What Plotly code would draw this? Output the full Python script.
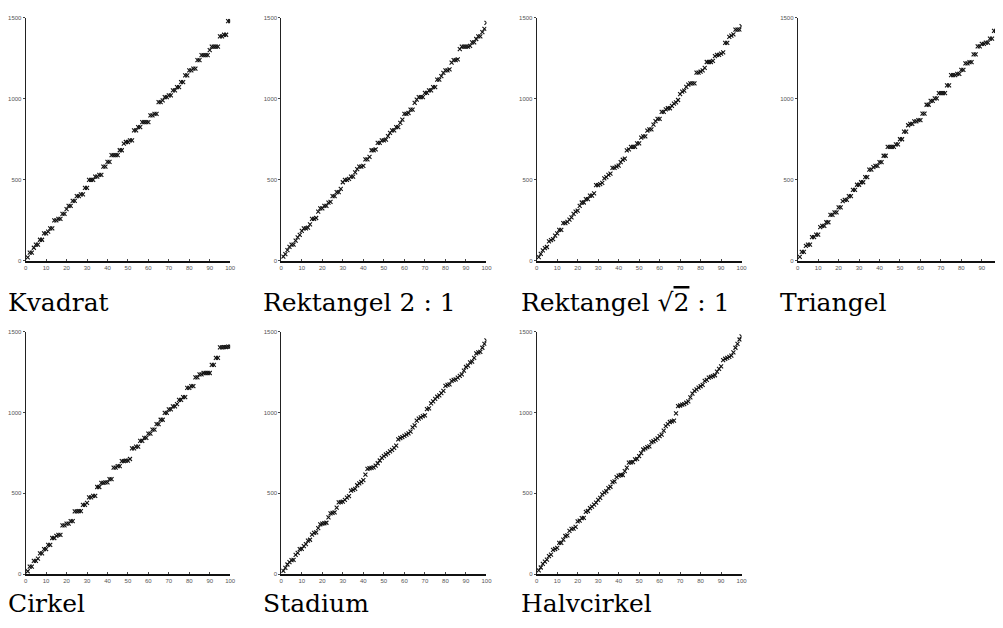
import plotly.graph_objects as go

n_index = list(range(1, 101))

kvadrat = [19.7, 49.4, 49.4, 79.1, 98.9, 98.9, 128.7, 128.7, 168.5, 168.5,
           178.4, 198.3, 198.3, 248.2, 248.2, 258.2, 258.2, 288.2, 288.2, 318.2,
           338.3, 338.3, 368.4, 368.4, 398.5, 398.5, 408.6, 408.6, 448.8, 448.8,
           499.3, 499.3, 499.3, 519.5, 519.5, 529.7, 529.7, 580.3, 580.3, 610.7,
           610.7, 651.4, 651.4, 651.4, 651.4, 681.9, 681.9, 722.7, 733.0, 733.0,
           743.2, 743.2, 804.6, 804.6, 825.0, 825.0, 855.8, 855.8, 855.8, 855.8,
           896.9, 896.9, 907.2, 907.2, 979.3, 979.3, 989.7, 1010.4, 1010.4, 1020.6,
           1020.6, 1051.7, 1051.7, 1072.5, 1072.5, 1103.6, 1103.6, 1145.1, 1145.1, 1176.4,
           1176.4, 1186.7, 1186.7, 1238.9, 1238.9, 1270.2, 1270.2, 1270.2, 1270.2, 1301.6,
           1322.5, 1322.5, 1322.5, 1322.5, 1385.5, 1385.5, 1396.0, 1396.0, 1480.3, 1480.3]

rekt_2_1 = [24.7, 39.5, 64.3, 84.1, 98.9, 98.9, 123.7, 143.6, 158.5, 183.4,
            198.3, 198.3, 203.3, 223.3, 258.2, 258.2, 263.2, 303.2, 323.2, 323.2,
            338.3, 338.3, 358.3, 363.4, 398.5, 398.5, 423.7, 423.7, 443.8, 484.2,
            499.3, 499.3, 504.4, 519.5, 519.5, 544.8, 565.1, 580.3, 580.3, 585.4,
            626.0, 626.0, 641.2, 681.9, 681.9, 687.0, 727.8, 727.8, 743.2, 743.2,
            748.3, 768.7, 789.2, 804.5, 804.5, 825.0, 825.0, 850.7, 871.2, 907.2,
            907.2, 912.3, 932.9, 932.9, 974.2, 994.8, 1010.3, 1010.3, 1010.3, 1036.2,
            1036.2, 1051.7, 1051.7, 1072.4, 1072.4, 1119.1, 1119.1, 1139.9, 1160.7, 1176.3,
            1176.3, 1181.5, 1223.2, 1238.9, 1238.9, 1244.1, 1306.9, 1322.6, 1322.6, 1322.6,
            1322.6, 1327.8, 1348.8, 1348.8, 1369.8, 1385.5, 1385.5, 1411.8, 1432.8, 1469.7]

rekt_sqrt2_1 = [20.9, 41.9, 62.9, 76.9, 83.9, 119.0, 126.0, 133.0, 154.1, 168.2,
                189.3, 189.3, 231.6, 231.6, 238.6, 252.8, 266.9, 288.1, 302.3, 309.3,
                337.7, 359.0, 359.0, 380.3, 380.3, 401.6, 401.6, 415.8, 465.7, 465.7,
                472.8, 480.0, 508.5, 515.7, 530.0, 537.1, 573.0, 573.0, 580.1, 587.3,
                608.8, 623.2, 630.4, 680.7, 687.9, 702.4, 702.4, 702.4, 724.0, 724.0,
                760.1, 767.3, 767.3, 803.5, 810.8, 810.8, 839.8, 861.5, 876.1, 876.1,
                919.7, 919.7, 934.3, 941.6, 941.6, 956.2, 970.7, 978.0, 992.6, 1029.2,
                1043.8, 1051.1, 1073.1, 1087.8, 1095.1, 1095.1, 1095.1, 1161.3, 1161.3, 1168.6,
                1176.0, 1190.7, 1227.6, 1227.6, 1227.6, 1234.9, 1264.5, 1271.9, 1271.9, 1279.3,
                1286.7, 1345.9, 1345.9, 1383.0, 1390.5, 1397.9, 1427.6, 1427.6, 1427.6, 1450.0]

triangel = [22.8, 53.2, 53.2, 91.4, 99.0, 99.0, 144.8, 144.8, 160.1, 160.1,
            206.1, 213.8, 213.8, 236.8, 236.8, 283.0, 283.0, 298.4, 298.4, 329.2,
            329.2, 367.8, 375.6, 375.6, 398.8, 398.8, 437.5, 437.5, 468.6, 468.6,
            484.1, 484.1, 515.2, 515.2, 562.0, 562.0, 577.6, 585.4, 585.4, 608.8,
            608.8, 647.9, 647.9, 702.8, 702.8, 702.8, 702.8, 718.5, 718.5, 749.9,
            749.9, 797.2, 797.2, 836.6, 844.5, 844.5, 860.3, 860.3, 868.2, 868.2,
            907.8, 907.8, 963.3, 963.3, 987.2, 987.2, 1003.1, 1003.1, 1034.9, 1034.9,
            1034.9, 1034.9, 1082.7, 1082.7, 1146.7, 1146.7, 1146.7, 1154.7, 1154.7, 1178.7,
            1178.7, 1218.8, 1218.8, 1226.9, 1226.9, 1275.1, 1275.1, 1323.5, 1323.5, 1339.6,
            1339.6, 1347.7, 1347.7, 1371.9, 1371.9, 1420.4, 1420.4, 1436.6, 1436.6, 1485.3]

cirkel = [18.2, 46.2, 46.2, 83.0, 83.0, 95.9, 128.3, 128.3, 155.2, 155.2,
          181.7, 181.7, 223.8, 223.8, 236.6, 243.1, 243.1, 301.5, 301.5, 312.5,
          312.5, 327.7, 327.7, 388.2, 388.2, 389.7, 389.7, 428.5, 428.5, 441.4,
          474.8, 474.8, 483.8, 483.8, 539.0, 539.0, 565.2, 565.2, 567.8, 567.8,
          588.2, 588.2, 659.1, 659.1, 668.7, 668.7, 699.1, 699.1, 701.5, 701.5,
          712.1, 777.5, 777.5, 788.8, 788.8, 823.7, 823.7, 843.3, 843.3, 869.7,
          869.7, 894.4, 894.4, 928.1, 928.1, 954.8, 954.8, 997.7, 997.7, 1019.3,
          1019.3, 1038.0, 1038.0, 1051.2, 1077.2, 1077.2, 1094.8, 1094.8, 1152.4, 1152.4,
          1162.5, 1162.5, 1217.1, 1217.1, 1235.9, 1235.9, 1243.9, 1243.9, 1243.9, 1243.9,
          1293.8, 1293.8, 1337.7, 1337.7, 1402.1, 1402.1, 1404.5, 1404.5, 1407.3, 1407.3]

stadium = [21, 39, 60, 74, 87, 89, 120, 132, 155, 157,
           174, 186, 207, 213, 244, 256, 258, 285, 308, 312,
           315, 318, 351, 376, 379, 382, 411, 444, 446, 448,
           459, 473, 483, 516, 521, 527, 550, 562, 570, 581,
           616, 651, 655, 658, 661, 671, 686, 703, 719, 730,
           740, 748, 760, 768, 781, 795, 834, 842, 848, 855,
           863, 871, 881, 908, 920, 949, 962, 970, 977, 982,
           1021, 1025, 1056, 1068, 1084, 1097, 1105, 1120, 1134, 1164,
           1171, 1174, 1195, 1201, 1205, 1215, 1226, 1236, 1258, 1281,
           1289, 1310, 1314, 1338, 1365, 1371, 1375, 1400, 1424, 1445]

halvcirkel = [23.1, 41.4, 64.0, 77.4, 90.6, 111.6, 121.3, 150.2, 155.7, 163.2,
              193.2, 194.0, 213.2, 236.1, 240.5, 267.8, 280.8, 282.0, 292.1, 327.0,
              331.7, 346.7, 348.0, 385.3, 390.8, 407.9, 417.6, 430.5, 442.6, 459.2,
              472.1, 493.2, 503.7, 512.9, 531.9, 540.6, 568.7, 573.6, 600.2, 609.3,
              613.2, 613.2, 637.5, 658.7, 690.0, 691.1, 692.5, 710.1, 712.3, 730,
              749, 771, 778, 786, 790, 816, 822, 830, 840, 853,
              863, 887, 916, 928, 941, 945, 949, 994, 1039, 1043,
              1048, 1051, 1060, 1068, 1093, 1117, 1134, 1142, 1154, 1162,
              1171, 1195, 1201, 1215, 1220, 1224, 1230, 1252, 1270, 1285,
              1324, 1332, 1338, 1343, 1351, 1371, 1400, 1424, 1451, 1470]

titles = ["Kvadrat", "Rektangel 2 : 1",
          "Rektangel √<span style='text-decoration:overline'>2</span> : 1",
          "Triangel", "Cirkel", "Stadium", "Halvcirkel"]
series = [kvadrat, rekt_2_1, rekt_sqrt2_1, triangel, cirkel, stadium, halvcirkel]

# the page body adds an 8 px offset, so figure coordinates are window coordinates minus 8
W, H = 995, 620
col_px = [(13.8, 220.4), (272.0, 479.3), (530.0, 737.0), (793.7, 995.0)]
row_px = [(7.0, 252.0), (323.7, 568.7)]
title_x = [-4, 254, 514, 776]
title_top = [280, 584]

fig = go.Figure()
layout = dict(width=W, height=H, margin=dict(l=0, r=0, t=0, b=0),
              paper_bgcolor="white", plot_bgcolor="white", showlegend=False)
annotations = []
unit_px = (col_px[0][1] - col_px[0][0]) / 100
for i, (name, vals) in enumerate(zip(titles, series)):
    r, c = divmod(i, 4)
    k = i + 1
    xa = "xaxis" if k == 1 else f"xaxis{k}"
    ya = "yaxis" if k == 1 else f"yaxis{k}"
    xr = "x" if k == 1 else f"x{k}"
    yr = "y" if k == 1 else f"y{k}"
    fig.add_trace(go.Scatter(x=n_index, y=vals, mode="markers", xaxis=xr, yaxis=yr,
                             marker=dict(symbol="x-thin-open", size=4, color="#111",
                                         line=dict(width=1.1, color="#111"))))
    x0, x1 = col_px[c]
    y0, y1 = row_px[r]
    xmax = 100 if c < 3 else (x1 - x0) / unit_px
    tickfont = dict(family="Liberation Sans Narrow, Arial Narrow, sans-serif", size=6, color="#555")
    layout[xa] = dict(domain=[x0 / W, x1 / W], range=[0, xmax], anchor=yr,
                      tickvals=list(range(0, 101, 10)), showgrid=False, zeroline=False,
                      showline=True, linecolor="#111", linewidth=2, ticks="inside",
                      ticklen=2, tickcolor="#444", tickfont=tickfont, fixedrange=True)
    layout[ya] = dict(domain=[1 - y1 / H, 1 - y0 / H], range=[0, 1500], anchor=xr,
                      tickvals=[0, 500, 1000, 1500], showgrid=False, zeroline=False,
                      showline=True, linecolor="#222", linewidth=1, ticks="outside",
                      ticklen=2, tickcolor="#444", tickfont=tickfont, fixedrange=True)
    annotations.append(dict(text=name, xref="paper", yref="paper",
                            x=title_x[c] / W, y=1 - title_top[r] / H,
                            xanchor="left", yanchor="top", showarrow=False,
                            borderpad=0, borderwidth=0,
                            font=dict(family="DejaVu Serif, serif", size=25, color="black")))
layout["annotations"] = annotations
fig.update_layout(**layout)
fig.write_html("out.html")
